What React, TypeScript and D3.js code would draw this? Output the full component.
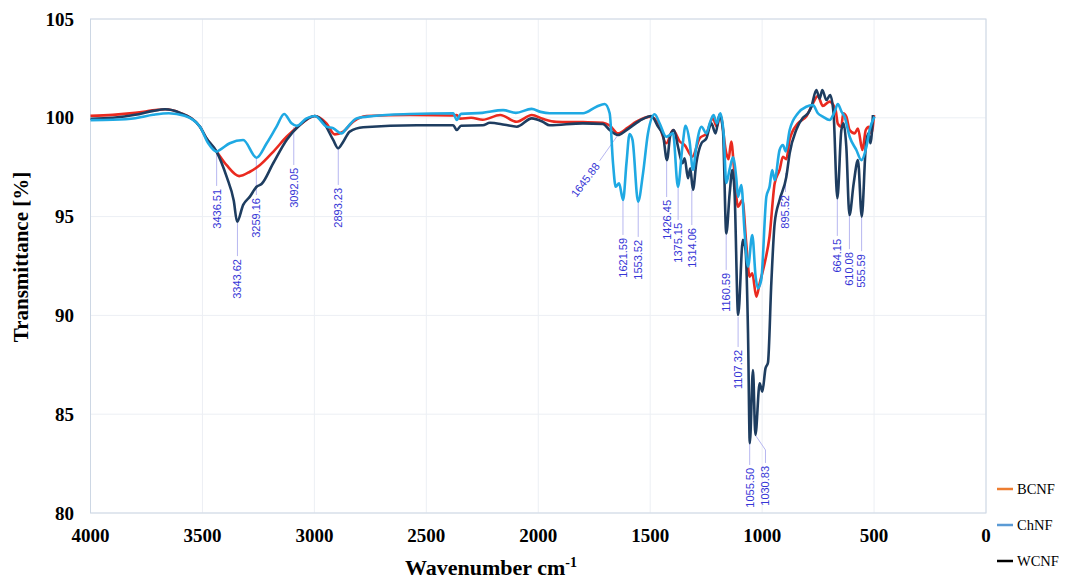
import React from "react";
import * as d3 from "d3";

const WAVENUMBER_TICKS = [4000, 3500, 3000, 2500, 2000, 1500, 1000, 500, 0];
const TRANSMITTANCE_TICKS = [80, 85, 90, 95, 100, 105];
const SERIES_NAMES = ["BCNF", "ChNF", "WCNF"];

const BCNF: [number, number][] = [
  [4000, 100.1], [3900, 100.15], [3800, 100.25], [3700, 100.4], [3667, 100.43], [3600, 100.25], [3511, 99.55], [3484, 99.0],
  [3437, 98.29], [3392, 97.6], [3336, 97.05], [3288, 97.27], [3243, 97.61], [3184, 98.28], [3124, 99.04], [3065, 99.64],
  [2998, 100.09], [2946, 99.72], [2909, 99.16], [2871, 99.3], [2827, 99.8], [2767, 100.09], [2574, 100.14], [2380, 100.12],
  [2364, 100.14], [2350, 99.96], [2300, 100.0], [2248, 99.9], [2170, 100.14], [2096, 99.8], [2029, 100.14], [1980, 99.95],
  [1920, 99.8], [1800, 99.78], [1711, 99.75], [1680, 99.6], [1644, 99.21], [1600, 99.5], [1562, 99.8], [1495, 100.06],
  [1458, 99.55], [1428, 98.71], [1398, 99.38], [1368, 98.8], [1346, 98.62], [1312, 98.03], [1279, 98.96], [1249, 99.21],
  [1220, 99.97], [1202, 99.55], [1187, 100.14], [1160, 98.2], [1150, 97.9], [1138, 98.8], [1125, 97.4], [1108, 95.5],
  [1088, 95.84], [1071, 93.65], [1056, 91.96], [1044, 92.13], [1026, 90.95], [1011, 91.62], [989, 92.63], [967, 93.98],
  [944, 96.68], [922, 97.36], [907, 98.03], [892, 97.9], [877, 98.9], [840, 99.72], [803, 100.06], [773, 100.73],
  [751, 101.1], [729, 100.6], [699, 100.82], [672, 100.4], [662, 99.7], [646, 99.55], [638, 100.23], [624, 100.06],
  [609, 99.38], [587, 99.21], [572, 99.46], [552, 98.37], [537, 99.38], [523, 99.55], [512, 99.21], [500, 100.14],
];

const CHNF: [number, number][] = [
  [4000, 99.88], [3900, 99.9], [3800, 99.98], [3720, 100.15], [3650, 100.23], [3580, 100.1], [3511, 99.55], [3474, 98.71],
  [3437, 98.29], [3422, 98.38], [3378, 98.71], [3318, 98.88], [3258, 97.98], [3213, 98.71], [3169, 99.55], [3135, 100.19],
  [3102, 99.72], [3079, 99.59], [3035, 99.97], [2998, 100.09], [2946, 99.55], [2916, 99.47], [2879, 99.21], [2856, 99.47],
  [2812, 99.97], [2737, 100.09], [2574, 100.19], [2380, 100.23], [2364, 99.89], [2345, 100.2], [2250, 100.25], [2157, 100.39],
  [2100, 100.25], [2030, 100.45], [1990, 100.3], [1949, 100.23], [1800, 100.23], [1740, 100.56], [1703, 100.7], [1681, 100.23],
  [1666, 97.7], [1654, 96.51], [1639, 96.68], [1621, 95.84], [1606, 97.7], [1592, 99.18], [1579, 98.88], [1554, 95.76],
  [1532, 97.19], [1510, 99.21], [1480, 100.18], [1458, 99.72], [1428, 99.04], [1398, 99.21], [1376, 96.51], [1356, 98.55],
  [1342, 99.59], [1324, 98.8], [1309, 97.36], [1294, 98.55], [1271, 99.55], [1249, 99.21], [1234, 99.72], [1217, 100.14],
  [1202, 99.72], [1187, 100.23], [1172, 99.21], [1160, 96.7], [1145, 97.4], [1130, 98.0], [1115, 96.9], [1108, 96.0],
  [1093, 96.6], [1078, 94.15], [1063, 92.47], [1044, 94.07], [1029, 91.96], [1019, 91.37], [1004, 91.79], [981, 96.01],
  [967, 96.51], [955, 97.36], [944, 96.85], [922, 98.37], [907, 98.62], [895, 98.3], [877, 99.38], [840, 100.23],
  [803, 100.56], [773, 100.64], [751, 100.23], [729, 100.06], [699, 99.89], [676, 100.31], [662, 100.7], [645, 100.3],
  [632, 100.06], [609, 99.04], [579, 98.37], [557, 97.86], [534, 98.54], [520, 99.38], [498, 100.06],
];

const WCNF: [number, number][] = [
  [4000, 99.95], [3900, 100.0], [3800, 100.15], [3720, 100.35], [3667, 100.43], [3600, 100.25], [3511, 99.55], [3484, 99.0],
  [3437, 98.29], [3392, 97.02], [3360, 95.8], [3345, 94.74], [3318, 95.59], [3288, 96.01], [3258, 96.51], [3236, 96.65],
  [3184, 97.7], [3124, 98.88], [3065, 99.64], [2998, 100.09], [2961, 99.8], [2916, 98.88], [2894, 98.46], [2871, 98.79],
  [2842, 99.3], [2782, 99.52], [2542, 99.62], [2380, 99.62], [2364, 99.38], [2345, 99.6], [2248, 99.62], [2216, 99.75],
  [2150, 99.65], [2096, 99.55], [2029, 99.97], [1980, 99.8], [1949, 99.62], [1801, 99.72], [1711, 99.69], [1681, 99.38],
  [1644, 99.13], [1606, 99.38], [1547, 99.85], [1495, 100.09], [1465, 99.55], [1443, 99.13], [1425, 97.86], [1410, 99.13],
  [1394, 99.38], [1376, 98.55], [1356, 97.7], [1346, 97.95], [1331, 96.94], [1321, 97.44], [1309, 96.35], [1294, 97.7],
  [1271, 98.71], [1249, 98.96], [1227, 99.72], [1208, 99.21], [1190, 100.18], [1175, 99.38], [1160, 94.15], [1145, 96.18],
  [1133, 97.36], [1123, 96.18], [1107, 90.02], [1086, 93.82], [1074, 93.31], [1063, 89.1], [1055, 83.53], [1041, 87.24],
  [1030, 83.95], [1011, 86.56], [999, 86.14], [985, 87.32], [974, 87.6], [959, 91.62], [944, 94.66], [922, 95.84],
  [892, 97.0], [877, 98.2], [847, 99.4], [818, 100.0], [795, 100.23], [780, 100.56], [758, 101.41], [743, 100.98],
  [731, 101.41], [713, 100.9], [696, 101.15], [681, 100.23], [664, 95.93], [646, 99.38], [636, 99.72], [624, 98.54],
  [610, 95.08], [591, 96.68], [572, 97.86], [555, 95.0], [537, 98.54], [526, 99.21], [516, 98.71], [505, 100.14],
];

const PEAK_LABELS = ["3436.51", "3343.62", "3259.16", "3092.05", "2893.23", "1645.88", "1621.59", "1553.52", "1426.45", "1375.15",
  "1314.06", "1160.59", "1107.32", "1055.50", "1030.83", "895.52", "664.15", "610.08", "555.59"];
const PEAK_T = [98.27, 94.68, 97.97, 99.53, 98.47, 99.1, 95.84, 95.79, 97.86, 96.5, 96.35, 94.17, 89.92, 83.54, 83.95, 97.21, 95.94, 95.08, 94.98];
const LABEL_T = [96.4, 92.85, 95.94, 97.46, 96.45, 97.66, 93.92, 93.82, 95.84, 94.68, 94.42, 92.15, 88.25, 82.28, 82.38, 96.09, 93.87, 93.2, 93.1];
const LABEL_WN = [3436.51, 3343.62, 3259.16, 3092.05, 2893.23, 1736, 1621.59, 1553.52, 1426.45, 1375.15, 1314.06, 1160.59, 1107.32, 1055.5, 985, 895.52, 664.15, 610.08, 555.59];
const LABEL_ANGLE = [-90, -90, -90, -90, -90, -53, -90, -90, -90, -90, -90, -90, -90, -90, -90, -90, -90, -90, -90];

export default function App() {
  const x = d3.scaleLinear().domain([4000, 0]).range([90.5, 986]);
  const y = d3.scaleLinear().domain([80, 105]).range([513, 19]);
  const line = d3.line<[number, number]>().x((d) => x(d[0])).y((d) => y(d[1])).curve(d3.curveMonotoneX);

  const series = [
    { name: "BCNF", data: BCNF, color: "#ea2a1f" },
    { name: "WCNF", data: WCNF, color: "#1e3d60" },
    { name: "ChNF", data: CHNF, color: "#1fa9e3" },
  ];
  const legendColors: Record<string, string> = { BCNF: "#ed7d31", ChNF: "#5b9bd5", WCNF: "#000000" };
  const serif = "'Liberation Serif', 'Times New Roman', serif";

  return (
    <div style={{ position: "absolute", left: 0, top: 0 }}>
      <svg width={1072} height={579} style={{ display: "block", background: "#fff" }}>
        {TRANSMITTANCE_TICKS.map((t) => (
          <line key={"gy" + t} x1={x(4000)} x2={x(0)} y1={y(t)} y2={y(t)} stroke="#eceff4" strokeWidth={1} />
        ))}
        {WAVENUMBER_TICKS.map((t) => (
          <line key={"gx" + t} x1={x(t)} x2={x(t)} y1={y(105)} y2={y(80)} stroke="#eceff4" strokeWidth={1} />
        ))}
        <rect x={x(4000)} y={y(105)} width={x(0) - x(4000)} height={y(80) - y(105)} fill="none" stroke="#cdd7e4" strokeWidth={1} />

        {TRANSMITTANCE_TICKS.map((t) => (
          <text key={"ty" + t} x={74} y={y(t)} dy="0.35em" textAnchor="end" fontFamily={serif} fontWeight="bold" fontSize={19} fill="#000">
            {t}
          </text>
        ))}
        {WAVENUMBER_TICKS.map((t) => (
          <text key={"tx" + t} x={x(t)} y={541.5} textAnchor="middle" fontFamily={serif} fontWeight="bold" fontSize={19} fill="#000">
            {t}
          </text>
        ))}

        <text transform={`translate(21,257) rotate(-90)`} dy="0.35em" textAnchor="middle" fontFamily={serif} fontWeight="bold" fontSize={21} fill="#000">
          Transmittance [%]
        </text>
        <text x={491} y={575} textAnchor="middle" fontFamily={serif} fontWeight="bold" fontSize={22} fill="#000">
          Wavenumber cm<tspan dy={-8} fontSize={14}>-1</tspan>
        </text>

        {PEAK_LABELS.map((lab, i) => {
          const wn = parseFloat(lab);
          const x0 = x(wn), y0 = y(PEAK_T[i]);
          const lx = x(LABEL_WN[i]), ly = y(LABEL_T[i]);
          let pts: [number, number][];
          if (LABEL_ANGLE[i] !== -90) {
            const dx = x0 - lx, dy = y0 - ly, len = Math.hypot(dx, dy);
            pts = [[x0, y0], [lx + (dx / len) * 4, ly + (dy / len) * 4]];
          } else if (Math.abs(lx - x0) > 1) {
            pts = [[x0, y0], [lx, ly - 16], [lx, ly - 3]];
          } else {
            pts = [[x0, y0], [lx, ly - 3]];
          }
          return <polyline key={"ld" + i} points={pts.map((p) => p.join(",")).join(" ")} fill="none" stroke="#b7b7f0" strokeWidth={1} />;
        })}

        {series.map((s) => (
          <path key={s.name} d={line(s.data) || ""} fill="none" stroke={s.color} strokeWidth={2.6} strokeLinejoin="round" />
        ))}

        {PEAK_LABELS.map((lab, i) => (
          <text key={"pl" + i} transform={`translate(${x(LABEL_WN[i])},${y(LABEL_T[i])}) rotate(${LABEL_ANGLE[i]})`} dy="0.35em" textAnchor="end"
            fontFamily="'Liberation Sans', Arial, sans-serif" fontSize={11} fill="#3636d6">
            {lab}
          </text>
        ))}

        {SERIES_NAMES.map((n, i) => (
          <g key={"lg" + n} transform={`translate(997,${489 + i * 36})`}>
            <line x1={0} x2={16} y1={0} y2={0} stroke={legendColors[n]} strokeWidth={2.5} />
            <text x={20} y={0} dy="0.35em" fontFamily={serif} fontSize={14.5} fill="#000">{n}</text>
          </g>
        ))}
      </svg>
    </div>
  );
}
